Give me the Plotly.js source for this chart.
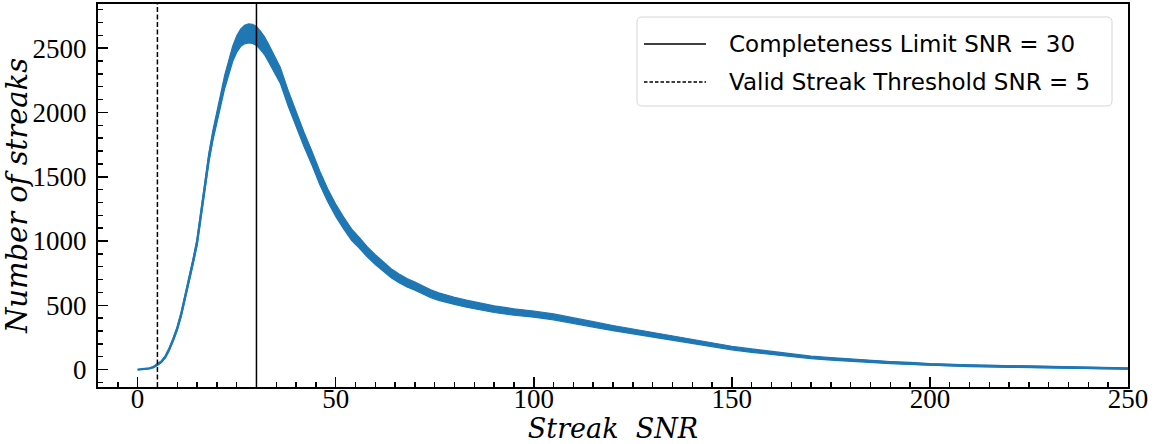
<!DOCTYPE html>
<html>
<head>
<meta charset="utf-8">
<script src="https://cdn.plot.ly/plotly-3.0.1.min.js"></script>
<style>
  html, body { margin: 0; padding: 0; background: #ffffff; }
  #chart { width: 1156px; height: 444px; }
</style>
</head>
<body>
<div id="chart"></div>
<script>
// Streak SNR histogram: bin centres, counts per bin and the half-width of the bin-to-bin scatter
const snr = [0, 1, 2, 3, 4, 5, 6, 7, 8, 9, 10, 11, 12, 13, 14, 15, 16, 17, 18, 19, 20, 21, 22, 23, 24, 25, 26, 27, 28, 29, 30, 31, 32, 33, 34, 35, 36, 38, 40, 42, 44, 46, 48, 50, 52, 54, 56, 58, 60, 62, 64, 66, 68, 70, 72, 74, 76, 78, 80, 83, 86, 90, 95, 100, 105, 110, 115, 120, 125, 130, 135, 140, 145, 150, 155, 160, 165, 170, 175, 180, 185, 190, 195, 200, 210, 220, 230, 240, 250];
const streakCounts = [0, 2, 5, 10, 20, 38, 62, 100, 160, 235, 320, 430, 560, 700, 840, 990, 1210, 1430, 1650, 1820, 1950, 2100, 2240, 2350, 2455, 2530, 2580, 2605, 2615, 2610, 2595, 2560, 2520, 2465, 2405, 2345, 2290, 2110, 1945, 1790, 1645, 1490, 1355, 1240, 1140, 1050, 985, 915, 855, 805, 750, 710, 675, 650, 620, 590, 568, 550, 535, 513, 494, 470, 448, 432, 410, 383, 352, 323, 298, 272, 245, 218, 192, 168, 148, 129, 111, 95, 84, 73, 63, 55, 48, 40, 31, 24, 17, 14, 8];
const scatterHalfWidth = [1, 2, 2, 2, 3, 5, 6, 8, 10, 12, 14, 16, 18, 20, 22, 25, 28, 32, 36, 40, 44, 48, 52, 56, 60, 64, 68, 72, 74, 74, 74, 72, 70, 68, 66, 64, 62, 60, 58, 56, 54, 52, 50, 48, 46, 44, 42, 40, 38, 36, 35, 34, 33, 32, 31, 30, 29, 28, 28, 27, 26, 26, 25, 24, 23, 22, 21, 20, 19, 18, 17, 16, 15, 14, 13, 12, 11, 10, 10, 9, 9, 8, 8, 7, 7, 6, 5, 5, 5];

// Reference SNR levels
const completenessSnr = 30;
const validThresholdSnr = 5;

// Axis ticks and ranges
const xTickVals = [0, 50, 100, 150, 200, 250];
const yTickVals = [0, 500, 1000, 1500, 2000, 2500];
const xRange = [-10, 250];
const yRange = [-135, 2843];

const blue = '#1f77b4';
const lower = streakCounts.map((v, i) => v - scatterHalfWidth[i]);
const upper = streakCounts.map((v, i) => v + scatterHalfWidth[i]);

const traces = [
  { x: snr, y: lower, type: 'scatter', mode: 'lines',
    line: { color: blue, width: 1.2 }, hoverinfo: 'skip', showlegend: false },
  { x: snr, y: upper, type: 'scatter', mode: 'lines', fill: 'tonexty',
    fillcolor: blue, line: { color: blue, width: 1.2 }, hoverinfo: 'skip', showlegend: false },
  { x: snr, y: streakCounts, type: 'scatter', mode: 'lines',
    line: { color: blue, width: 2.4 }, showlegend: false },
  // empty trace that attaches the labelling axes
  { x: [null], y: [null], xaxis: 'x2', yaxis: 'y2', type: 'scatter', mode: 'lines',
    hoverinfo: 'skip', showlegend: false }
];

// Plot-area geometry in pixels, used to place the legend box in paper units
const W = 1156, H = 444;
const M = { l: 98, r: 28, t: 4, b: 57 };
const pw = W - M.l - M.r, ph = H - M.t - M.b;
const px = v => (v - M.l) / pw;
const py = v => (H - M.b - v) / ph;

// Legend box with rounded corners
const bx0 = px(637), bx1 = px(1112), by0 = py(106), by1 = py(17);
const rx = 5 / pw, ry = 5 / ph;
const boxPath = `M${bx0 + rx},${by0} L${bx1 - rx},${by0} Q${bx1},${by0} ${bx1},${by0 + ry} ` +
  `L${bx1},${by1 - ry} Q${bx1},${by1} ${bx1 - rx},${by1} L${bx0 + rx},${by1} ` +
  `Q${bx0},${by1} ${bx0},${by1 - ry} L${bx0},${by0 + ry} Q${bx0},${by0} ${bx0 + rx},${by0} Z`;

const legendRows = [
  { label: `Completeness Limit SNR = ${completenessSnr}`, dash: 'solid', y: py(44) },
  { label: `Valid Streak Threshold SNR = ${validThresholdSnr}`, dash: '3.5px,2px', y: py(82) }
];

const shapes = [
  { type: 'line', xref: 'x', yref: 'paper', x0: completenessSnr, x1: completenessSnr, y0: 0, y1: 1,
    line: { color: '#000000', width: 1.5 }, layer: 'above' },
  { type: 'line', xref: 'x', yref: 'paper', x0: validThresholdSnr, x1: validThresholdSnr, y0: 0, y1: 1,
    line: { color: '#000000', width: 1.5, dash: '5px,2.5px' }, layer: 'above' },
  { type: 'path', xref: 'paper', yref: 'paper', path: boxPath,
    fillcolor: 'rgba(255,255,255,0.85)', line: { color: '#d6d6d6', width: 1 }, layer: 'above' }
];
legendRows.forEach(r => shapes.push({
  type: 'line', xref: 'paper', yref: 'paper', x0: px(644), x1: px(706), y0: r.y, y1: r.y,
  line: { color: '#000000', width: 1.5, dash: r.dash }, layer: 'above'
}));

const annotations = legendRows.map(r => ({
  xref: 'paper', yref: 'paper', x: px(727), y: r.y, xanchor: 'left', yanchor: 'middle',
  text: r.label, showarrow: false,
  font: { family: 'DejaVu Sans, sans-serif', size: 23, color: '#000000' }
}));

const tickFont = { family: 'Liberation Serif, serif', size: 27, color: '#000000' };
const xTitleFont = { family: 'DejaVu Serif, serif', size: 27, color: '#000000' };
const yTitleFont = { family: 'DejaVu Serif, serif', size: 29, color: '#000000' };

// Frame axes carry the spines and the inward ticks
const frameAxis = (range, tickvals, minorStep) => ({
  range: range, tickvals: tickvals,
  ticks: 'inside', ticklen: 10, tickwidth: 1.6, tickcolor: '#000000',
  minor: { dtick: minorStep, ticks: 'inside', ticklen: 5, tickwidth: 1.4, tickcolor: '#000000', showgrid: false },
  showline: true, linecolor: '#000000', linewidth: 2.2, mirror: true,
  showgrid: false, zeroline: false, showticklabels: false
});

// Label axes carry the tick labels and titles; invisible outside ticks set the label gap
const labelAxis = (range, tickvals, title, font, standoff, overlay, pos, gap) => ({
  range: range, tickvals: tickvals, ticktext: tickvals.map(String),
  overlaying: overlay, anchor: 'free', position: pos,
  ticks: gap > 0 ? 'outside' : '', ticklen: Math.max(gap, 1), tickcolor: 'rgba(0,0,0,0)',
  showline: false, showgrid: false, zeroline: false,
  tickfont: tickFont,
  title: { text: title, font: font, standoff: standoff }
});

const layout = {
  width: W, height: H,
  margin: M,
  paper_bgcolor: '#ffffff', plot_bgcolor: '#ffffff',
  showlegend: false,
  xaxis: frameAxis(xRange, xTickVals, 5),
  yaxis: frameAxis(yRange, yTickVals, 100),
  xaxis2: labelAxis(xRange, xTickVals, '<i>Streak  SNR</i>', xTitleFont, 14, 'x', 7 / ph, 0),
  yaxis2: labelAxis(yRange, yTickVals, '<i>Number of streaks</i>', yTitleFont, 1, 'y', 0, 6),
  shapes: shapes,
  annotations: annotations
};

Plotly.newPlot('chart', traces, layout, { displayModeBar: false, staticPlot: true });
</script>
</body>
</html>
